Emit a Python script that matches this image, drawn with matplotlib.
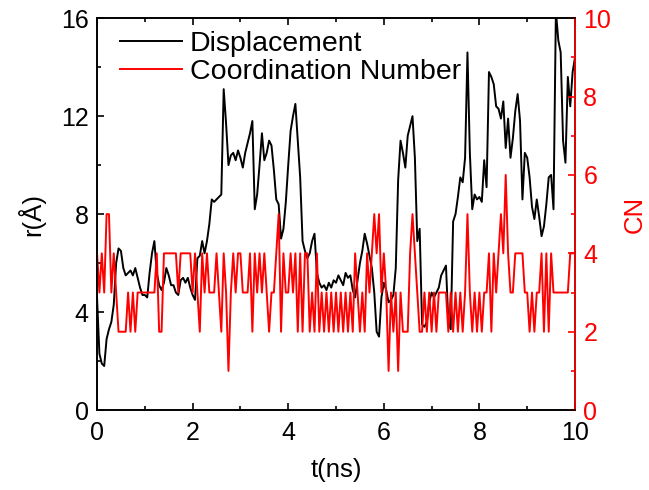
import numpy as np
import matplotlib.pyplot as plt
from matplotlib.ticker import MultipleLocator

plt.rcParams["font.family"] = ["Liberation Sans", "DejaVu Sans"]

# time axis (ns), sampled every 0.05 ns
t = np.linspace(0, 10, 201)

# displacement r (Angstrom)
disp = [
    4.6, 2.3, 1.9, 1.8, 2.9, 3.3, 3.6, 4.3, 6.0, 6.6,
    6.5, 5.8, 5.5, 5.6, 5.7, 5.5, 5.8, 5.4, 5.0, 4.7,
    4.7, 4.6, 5.6, 6.4, 6.9, 5.6, 5.1, 4.9, 5.2, 5.8,
    5.5, 5.1, 5.1, 4.8, 4.7, 5.3, 5.4, 5.2, 5.4, 5.0,
    4.7, 4.5, 6.2, 6.3, 6.9, 6.4, 6.9, 7.6, 8.6, 8.5,
    8.6, 8.7, 8.8, 13.1, 11.7, 10.0, 10.4, 10.5, 10.2, 10.6,
    10.3, 9.9, 10.5, 10.9, 11.3, 11.8, 8.2, 8.8, 10.0, 11.3,
    10.2, 10.5, 11.0, 10.8, 9.8, 8.6, 8.4, 7.0, 7.4, 8.5,
    10.0, 11.4, 12.0, 12.5, 11.0, 9.5, 6.9, 6.5, 6.2, 6.4,
    6.9, 7.2, 5.6, 5.2, 5.0, 5.1, 4.9, 5.2, 5.0, 5.3,
    5.2, 5.5, 5.3, 5.1, 5.6, 5.4, 5.5, 4.9, 4.6, 5.3,
    6.0, 6.5, 7.2, 6.8, 6.3, 5.8, 4.8, 3.2, 3.0, 4.6,
    5.2, 4.9, 4.4, 4.5, 4.7, 5.8, 9.4, 11.0, 10.5, 9.9,
    11.2, 11.6, 12.0, 10.3, 6.9, 7.4, 3.5, 3.4, 3.6, 4.4,
    4.8, 4.6, 4.8, 5.0, 5.5, 5.7, 5.9, 3.6, 3.3, 7.7,
    8.0, 8.7, 9.5, 9.3, 10.3, 14.6, 10.5, 8.2, 8.8, 8.6,
    8.7, 8.5, 10.2, 9.1, 13.8, 13.6, 13.3, 12.4, 12.3, 11.9,
    12.6, 10.7, 11.9, 10.3, 11.1, 12.2, 12.9, 11.8, 8.6, 10.5,
    10.3, 9.5, 8.3, 7.8, 8.6, 7.9, 7.1, 7.5, 8.4, 9.5,
    9.6, 8.2, 16.3, 15.1, 14.6, 11.0, 10.1, 13.6, 12.4, 13.8,
    14.4,
]

# coordination number
cn = [
    4, 3, 4, 3, 5, 5, 3, 4, 3, 2,
    2, 2, 2, 3, 2, 3, 2, 3, 3, 3,
    3, 3, 3, 3, 3, 4, 2, 2, 4, 4,
    4, 4, 4, 4, 3, 4, 4, 4, 4, 4,
    3, 4, 3, 2, 4, 3, 4, 3, 3, 3,
    4, 3, 2, 4, 3, 1, 3, 4, 3, 4,
    4, 3, 3, 3, 4, 2, 4, 3, 4, 3,
    4, 3, 2, 3, 3, 4, 5, 2, 4, 3,
    3, 4, 3, 4, 2, 4, 2, 4, 4, 2,
    3, 2, 4, 2, 3, 2, 3, 2, 3, 2,
    3, 2, 3, 2, 3, 2, 3, 2, 4, 3,
    2, 3, 2, 4, 3, 4, 5, 4, 5, 3,
    4, 3, 1, 3, 2, 3, 1, 3, 2, 2,
    2, 4, 5, 4, 3, 2, 2, 3, 2, 3,
    2, 3, 2, 3, 3, 3, 3, 2, 3, 2,
    3, 2, 3, 2, 3, 5, 3, 2, 3, 2,
    3, 2, 3, 3, 4, 2, 4, 3, 4, 5,
    4, 6, 4, 3, 3, 4, 4, 4, 4, 3,
    3, 2, 3, 2, 3, 3, 4, 2, 4, 2,
    4, 3, 3, 3, 3, 3, 3, 3, 4, 4,
    4,
]

fig = plt.figure(figsize=(6.49, 4.9), dpi=100)
ax = fig.add_axes([0.1495, 0.163, 0.7365, 0.8])
ax2 = ax.twinx()

l1, = ax.plot(t, disp, color="black", lw=1.4, label="Displacement")
l2, = ax2.plot(t, cn, color="red", lw=1.4, label="Coordination Number")

ax.set_xlim(0, 10)
ax.set_ylim(0, 16)
ax2.set_ylim(0, 10)

ax.xaxis.set_major_locator(MultipleLocator(2))
ax.xaxis.set_minor_locator(MultipleLocator(1))
ax.yaxis.set_major_locator(MultipleLocator(4))
ax.yaxis.set_minor_locator(MultipleLocator(2))
ax2.yaxis.set_major_locator(MultipleLocator(2))
ax2.yaxis.set_minor_locator(MultipleLocator(1))

ax.tick_params(which="both", direction="in", top=True, labelsize=18, width=1.2)
ax.tick_params(which="major", length=5)
ax.tick_params(which="minor", length=3)
ax.tick_params(axis="x", pad=8)
ax.tick_params(axis="y", pad=6)
ax2.tick_params(which="both", direction="in", colors="red", labelsize=18,
                width=1.2, pad=6)
ax2.tick_params(which="major", length=5)
ax2.tick_params(which="minor", length=3)

for s in ax.spines.values():
    s.set_linewidth(1.2)
for s in ax2.spines.values():
    s.set_linewidth(1.2)
ax2.spines["right"].set_color("red")

ax.set_xlabel("t(ns)", fontsize=18.5, labelpad=9)
ax.set_ylabel("r(Å)", fontsize=18.5, labelpad=11)
ax2.set_ylabel("CN", fontsize=18.5, color="red", labelpad=8)

ax2.legend(handles=[l1, l2], loc="upper left", frameon=False, fontsize=20.5,
           handlelength=2.18, handletextpad=0.28, labelspacing=0.07,
           borderpad=0, borderaxespad=0, bbox_to_anchor=(0.048, 0.967))

fig.savefig("out.png", dpi=100)
